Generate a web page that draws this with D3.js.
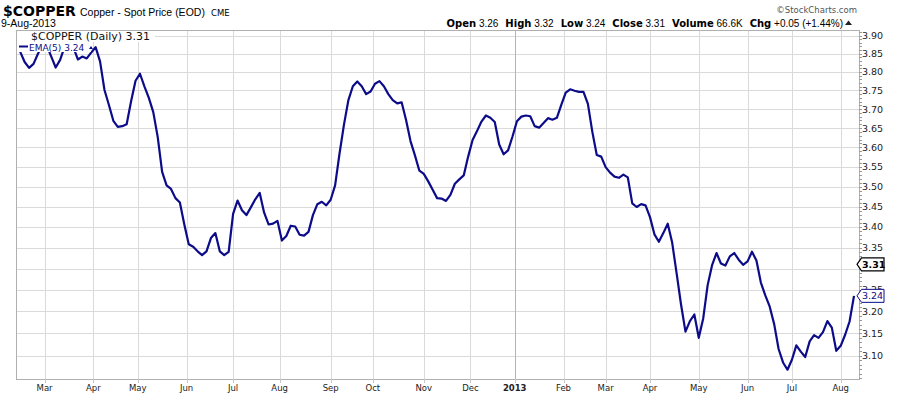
<!DOCTYPE html>
<html>
<head>
<meta charset="utf-8">
<script src="https://cdn.jsdelivr.net/npm/d3@7"></script>
<style>
  html, body { margin: 0; padding: 0; background: #fff; }
  svg { display: block; }
</style>
</head>
<body>
<svg id="chart" width="900" height="396"></svg>
<script>
// $COPPER daily, EMA(5) only — StockCharts style, log price scale

// ─── Data ─────────────────────────────────────────────────────────────────────

const startDate = '2012-02-13';
const endDate = '2013-08-09';
// exchange holidays (no session)
const holidays = [
  '2012-02-20', '2012-04-06', '2012-05-28', '2012-07-04', '2012-09-03',
  '2012-11-22', '2012-12-25', '2013-01-01', '2013-02-18', '2013-03-29',
  '2013-05-27', '2013-07-04',
];

// EMA(5), one value every second session (starting 2nd session)
const ema = [
  3.855, 3.827, 3.811, 3.822, 3.850, 3.874, 3.872, 3.842, 3.812, 3.833,
  3.869, 3.874, 3.867, 3.834, 3.842, 3.837, 3.853, 3.868, 3.829, 3.751,
  3.711, 3.669, 3.653, 3.655, 3.660, 3.721, 3.776, 3.795, 3.761, 3.730,
  3.692, 3.627, 3.537, 3.503, 3.494, 3.471, 3.460, 3.406, 3.358, 3.352,
  3.341, 3.332, 3.341, 3.373, 3.385, 3.341, 3.332, 3.340, 3.432, 3.465,
  3.441, 3.429, 3.448, 3.468, 3.484, 3.435, 3.406, 3.408, 3.415, 3.367,
  3.378, 3.403, 3.401, 3.381, 3.379, 3.388, 3.429, 3.456, 3.462, 3.453,
  3.467, 3.503, 3.584, 3.659, 3.724, 3.761, 3.774, 3.761, 3.740, 3.747,
  3.768, 3.775, 3.761, 3.740, 3.724, 3.715, 3.718, 3.671, 3.616, 3.579,
  3.540, 3.532, 3.513, 3.492, 3.471, 3.470, 3.464, 3.479, 3.507, 3.518,
  3.528, 3.576, 3.619, 3.642, 3.667, 3.683, 3.677, 3.666, 3.607, 3.582,
  3.592, 3.628, 3.668, 3.680, 3.683, 3.681, 3.655, 3.651, 3.663, 3.676,
  3.672, 3.677, 3.711, 3.744, 3.753, 3.749, 3.746, 3.746, 3.714, 3.640,
  3.580, 3.576, 3.549, 3.535, 3.525, 3.522, 3.530, 3.523, 3.458, 3.449,
  3.456, 3.453, 3.424, 3.382, 3.364, 3.385, 3.408, 3.362, 3.289, 3.216,
  3.154, 3.178, 3.193, 3.140, 3.184, 3.261, 3.308, 3.337, 3.312, 3.307,
  3.329, 3.337, 3.321, 3.309, 3.317, 3.340, 3.319, 3.267, 3.237, 3.211,
  3.171, 3.115, 3.085, 3.069, 3.091, 3.123, 3.109, 3.097, 3.132, 3.146,
  3.140, 3.153, 3.178, 3.163, 3.111, 3.122, 3.147, 3.177, 3.236,
];

const yTicks = [3.10, 3.15, 3.20, 3.25, 3.30, 3.35, 3.40, 3.45, 3.50, 3.55,
  3.60, 3.65, 3.70, 3.75, 3.80, 3.85, 3.90];

const lastClose = 3.31;
const lastEma = 3.24;
const stats = [
  ['Open', '3.26'], ['High', '3.32'], ['Low', '3.24'], ['Close', '3.31'],
  ['Volume', '66.6K'], ['Chg', '+0.05 (+1.44%)'],
];

// ─── Layout ───────────────────────────────────────────────────────────────────

const W = 900, H = 396;
const plot = { left: 16, top: 30, right: 859, bottom: 379 };
const LINE = '#0c0c8a';
const GRID = '#dadada';
const SANS = '"Liberation Sans", Arial, sans-serif';
const VERD = '"DejaVu Sans", Verdana, sans-serif';

const parse = d3.timeParse('%Y-%m-%d');
const fmt = d3.timeFormat('%Y-%m-%d');
const holidaySet = new Set(holidays);
const sessions = d3.timeDays(parse(startDate), d3.timeDay.offset(parse(endDate), 1))
  .filter(d => d.getDay() % 6 !== 0 && !holidaySet.has(fmt(d)));

const points = ema.map((v, k) => ({ date: sessions[2 * k + 1], idx: 2 * k + 1, v }));

const x = d3.scaleLinear().domain([0, sessions.length - 1]).range([18, 854]);
const y = d3.scaleLog().domain([3.1, 3.9]).range([355.7, 35.7]);

// first session of each month
const monthTicks = sessions
  .map((d, i) => ({ d, i }))
  .filter(({ d, i }) => i > 0 && d.getMonth() !== sessions[i - 1].getMonth());

const svg = d3.select('#chart');

svg.append('defs').append('clipPath').attr('id', 'plot-clip')
  .append('rect')
  .attr('x', plot.left).attr('y', plot.top)
  .attr('width', plot.right - plot.left).attr('height', plot.bottom - plot.top);

// ─── Grid ─────────────────────────────────────────────────────────────────────

const grid = svg.append('g').attr('shape-rendering', 'crispEdges');

grid.selectAll('line.h').data(yTicks).join('line')
  .attr('class', 'h')
  .attr('x1', plot.left).attr('x2', plot.right)
  .attr('y1', d => Math.round(y(d)) + 0.5).attr('y2', d => Math.round(y(d)) + 0.5)
  .attr('stroke', GRID);

grid.selectAll('line.v').data(monthTicks).join('line')
  .attr('class', 'v')
  .attr('x1', d => Math.round(x(d.i)) + 0.5).attr('x2', d => Math.round(x(d.i)) + 0.5)
  .attr('y1', plot.top).attr('y2', plot.bottom)
  .attr('stroke', d => d.d.getMonth() === 0 ? '#b4b4b4' : GRID);

// frame
grid.append('rect')
  .attr('x', plot.left + 0.5).attr('y', plot.top + 0.5)
  .attr('width', plot.right - plot.left).attr('height', plot.bottom - plot.top)
  .attr('fill', 'none').attr('stroke', '#b0b0b0');

// bottom ticks
grid.selectAll('line.bt').data(monthTicks).join('line')
  .attr('class', 'bt')
  .attr('x1', d => Math.round(x(d.i)) + 0.5).attr('x2', d => Math.round(x(d.i)) + 0.5)
  .attr('y1', plot.bottom).attr('y2', plot.bottom + 4)
  .attr('stroke', '#c8c8c8');

// ─── EMA line ─────────────────────────────────────────────────────────────────

svg.append('path')
  .datum(points)
  .attr('clip-path', 'url(#plot-clip)')
  .attr('fill', 'none')
  .attr('stroke', LINE)
  .attr('stroke-width', 2.2)
  .attr('stroke-linejoin', 'round')
  .attr('d', d3.line().x(d => x(d.idx)).y(d => y(d.v)));

// ─── Right axis ───────────────────────────────────────────────────────────────

const minor = d3.range(305, 392).map(c => c / 100);
const axis = svg.append('g').attr('shape-rendering', 'crispEdges');
axis.selectAll('line.mt').data(minor).join('line')
  .attr('class', 'mt')
  .attr('x1', plot.right).attr('x2', plot.right + 3)
  .attr('y1', d => Math.round(y(d)) + 0.5).attr('y2', d => Math.round(y(d)) + 0.5)
  .attr('stroke', '#999');

// the close tag hides the label it sits on
const tagY = [y(lastClose), y(ema[ema.length - 1])];
const shownTicks = yTicks.filter(t => Math.abs(y(t) - tagY[0]) > 7);

svg.append('g').selectAll('text').data(shownTicks).join('text')
  .attr('x', 862).attr('y', d => y(d) + 3.5)
  .attr('font-family', VERD).attr('font-size', 9.5).attr('fill', '#222')
  .text(d => d.toFixed(2));

function priceTag(value, posY, opts) {
  const g = svg.append('g');
  g.append('path')
    .attr('d', `M857,${posY} L861.5,${posY - 6.5} H884 V${posY + 6.5} H861.5 Z`)
    .attr('fill', '#fff').attr('stroke', opts.stroke).attr('stroke-width', opts.sw);
  g.append('text')
    .attr('x', 862).attr('y', posY + 3.5)
    .attr('font-family', VERD).attr('font-size', 9.5)
    .attr('font-weight', opts.bold ? 'bold' : 'normal')
    .attr('fill', opts.fill)
    .text(value.toFixed(2));
}
priceTag(lastClose, tagY[0], { stroke: '#000', sw: 1.2, bold: true, fill: '#000' });
priceTag(lastEma, tagY[1], { stroke: LINE, sw: 1, bold: false, fill: LINE });

// ─── Bottom axis labels ───────────────────────────────────────────────────────

svg.append('g').selectAll('text').data(monthTicks).join('text')
  .attr('x', d => x(d.i)).attr('y', 391)
  .attr('text-anchor', 'middle')
  .attr('font-family', VERD).attr('font-size', 8.5)
  .attr('font-weight', d => d.d.getMonth() === 0 ? 'bold' : 'normal')
  .attr('fill', '#222')
  .text(d => d.d.getMonth() === 0 ? d3.timeFormat('%Y')(d.d) : d3.timeFormat('%b')(d.d));

// ─── Header ───────────────────────────────────────────────────────────────────

svg.append('text').attr('x', 3).attr('y', 15.5)
  .attr('font-family', VERD).attr('font-size', 14).attr('font-weight', 'bold')
  .text('$COPPER');
svg.append('text').attr('x', 80).attr('y', 15.5)
  .attr('font-family', SANS).attr('font-size', 10.5)
  .text('Copper - Spot Price (EOD)');
svg.append('text').attr('x', 211).attr('y', 15.5)
  .attr('font-family', VERD).attr('font-size', 8.5)
  .text('CME');
svg.append('text').attr('x', 1).attr('y', 27)
  .attr('font-family', SANS).attr('font-size', 10.5)
  .text('9-Aug-2013');

svg.append('text').attr('x', 857).attr('y', 13)
  .attr('text-anchor', 'end')
  .attr('font-family', VERD).attr('font-size', 8.5).attr('fill', '#555')
  .text('©StockCharts.com');

const st = svg.append('text').attr('x', 843).attr('y', 26.5).attr('text-anchor', 'end');
stats.forEach(([k, v], i) => {
  st.append('tspan').attr('font-family', VERD).attr('font-size', 10).attr('font-weight', 'bold')
    .text((i ? '  ' : '') + k);
  st.append('tspan').attr('font-family', SANS).attr('font-size', 10).text(' ' + v);
});
st.attr('xml:space', 'preserve').style('white-space', 'pre');
svg.append('path').attr('d', 'M845,25 L848.5,20.5 L852,25 Z').attr('fill', '#222');

// ─── Legend (white backed, sits over the line) ────────────────────────────────

const leg = svg.append('g');
leg.append('rect').attr('x', plot.left + 1).attr('y', plot.top + 1)
  .attr('width', 138).attr('height', 11).attr('fill', '#fff');
leg.append('rect').attr('x', plot.left + 1).attr('y', plot.top + 12)
  .attr('width', 74).attr('height', 10).attr('fill', '#fff');
leg.append('text').attr('x', 31).attr('y', 39.5)
  .attr('font-family', VERD).attr('font-size', 11).attr('fill', '#111')
  .text(`$COPPER (Daily) ${lastClose.toFixed(2)}`);
leg.append('line').attr('x1', 19).attr('x2', 28).attr('y1', 46.5).attr('y2', 46.5)
  .attr('stroke', LINE).attr('stroke-width', 2);
leg.append('text').attr('x', 29).attr('y', 50.5)
  .attr('font-family', VERD).attr('font-size', 9).attr('fill', LINE)
  .text(`EMA(5) ${lastEma.toFixed(2)}`);
leg.append('path').attr('d', 'M89,49 L91,46 L93,49 Z').attr('fill', LINE);

if (sessions.length !== 378) console.warn('session count', sessions.length);
</script>
</body>
</html>
